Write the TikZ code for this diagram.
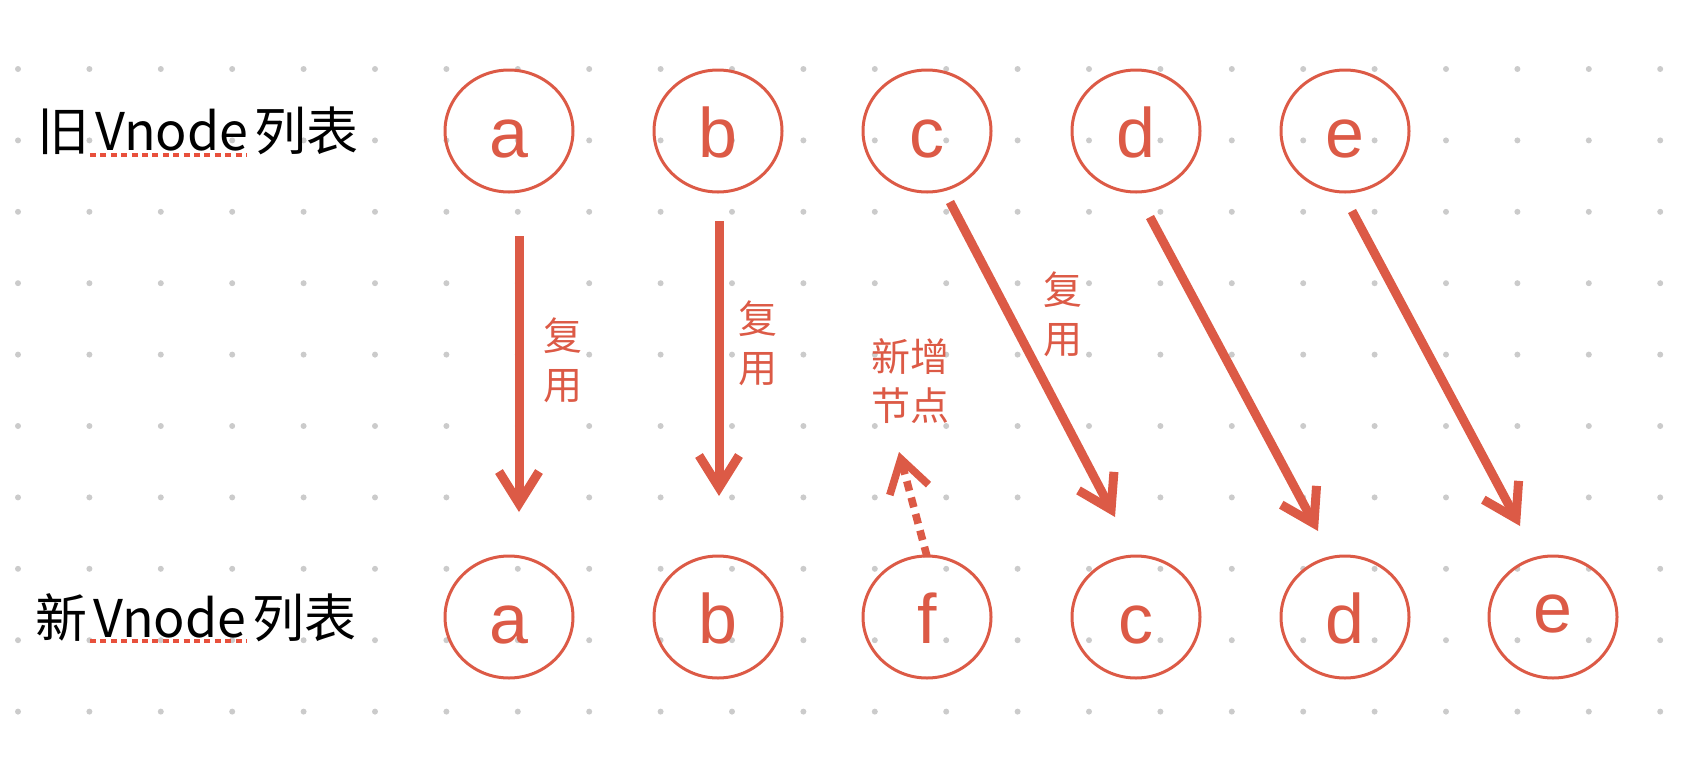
\documentclass[tikz,border=0pt]{standalone}
\usepackage{fontspec}
\setmainfont{Liberation Sans}
\newfontfamily\cjk{Noto Sans CJK SC}
\usetikzlibrary{arrows.meta,shapes.geometric}
\definecolor{vred}{HTML}{DC5A46}
\definecolor{spellred}{HTML}{E8503C}
\definecolor{griddot}{HTML}{CBCBCB}

\begin{document}
\begin{tikzpicture}[x=0.5pt,y=-0.5pt,
  vnode/.style={ellipse,draw=vred,line width=1.5pt,minimum width=64pt,minimum height=61pt,
    inner sep=0pt,text=vred,font=\fontsize{35}{35}\selectfont,text height=26pt,text depth=0pt},
  reuse/.style={-{Straight Barb[length=16pt,width=20pt]},draw=vred,line width=4.5pt},
  addnew/.style={reuse,line width=3.8pt,dash pattern=on 5pt off 3.5pt},
  tag/.style={text=vred,font=\cjk\fontsize{19.5}{24.5}\selectfont,align=center,inner sep=0pt},
  listname/.style={font=\cjk\fontsize{26}{26}\selectfont,anchor=base west,inner sep=0pt},
  spell/.style={draw=spellred,line width=2pt,dash pattern=on 3pt off 2.2pt}]
\useasboundingbox (0,0) rectangle (1688,772);
% dot grid
\foreach \i in {0,...,23}
  \foreach \j in {0,...,9}
    \fill[griddot] (18+71.4*\i,69+71.4*\j) circle (3);

% list names
\node[listname] (oldname) at (37,150) {旧\kern3pt Vnode\kern3pt 列表};
\node[listname] (newname) at (35,637) {新\kern3pt Vnode\kern3pt 列表};
\draw[spell] (90,155)--(247,155);
\draw[spell] (90,641)--(247,641);

% old and new vnodes
\foreach \l [count=\i from 0] in {a,b,c,d,e}
  \node[vnode] (o\l) at (509+209*\i,131) {\l};
\foreach \l [count=\i from 0] in {a,b,f,c,d}
  \node[vnode] (n\l) at (509+209*\i,617) {\l};
\node[vnode,text depth=11pt] (ne) at (1553,617) {e};

% labels
\node[tag] (tga) at (563,360) {复\\用};
\node[tag] (tgb) at (758,343) {复\\用};
\node[tag] (tgc) at (1063,314) {复\\用};
\node[tag] (tgf) at (910,381) {新增\\节点};

% arrows
\draw[reuse] ([shift={(10,105)}]oa.center)--([shift={(10,-105)}]na.center);
\draw[reuse] ([shift={(1,90)}]ob.center)--([shift={(1,-121)}]nb.center);
\draw[reuse] ([shift={(23,71)}]oc.center)--([shift={(-21,-100)}]nc.center);
\draw[reuse] ([shift={(14,86)}]od.center)--([shift={(-27,-86)}]nd.center);
\draw[reuse] ([shift={(7,80)}]oe.center)--([shift={(-33,-91)}]ne.center);
\draw[addnew] ([yshift=-1]nf.north)--([shift={(-11,71)}]tgf.center);
\end{tikzpicture}
\end{document}
